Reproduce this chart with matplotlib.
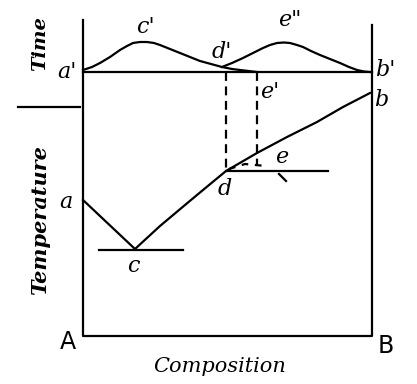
import matplotlib
matplotlib.use("Agg")
from matplotlib import pyplot as plt

# diagram coordinates (x = composition, y = downward, same frame as the picture)
frame_x = [83, 83, 372, 372]
frame_y = [20, 336, 336, 25]

time_base_x = [83, 372]
time_base_y = [72, 72]

# cooling-time humps
hump1_x = [83, 92, 100, 110, 120, 127, 133, 140, 147, 154, 160, 170, 180, 190, 200, 211, 222, 232, 240, 257]
hump1_y = [70, 67, 63, 57, 50, 46, 43, 42, 42, 43, 45, 49, 53, 57, 61, 64, 67, 69, 70, 72]
hump2_x = [222, 232, 243, 253, 263, 270, 277, 284, 290, 297, 303, 311, 320, 330, 340, 349, 357, 364, 370]
hump2_y = [67, 63, 58, 53, 48, 45, 43, 42.5, 43, 45, 47, 51, 55, 59, 63, 67, 70, 71.5, 72]

# liquidus
left_x = [83, 135]
left_y = [200, 249]
right_x = [135, 160, 185, 203, 226, 257, 287, 317, 343, 370]
right_y = [249, 226, 205, 190, 171, 153, 137, 122, 107, 93]

eutectic_x = [99, 183]
eutectic_y = [250, 250]
d_line_x = [226, 328]
d_line_y = [171, 171]

dash1_x = [226, 226]
dash1_y = [72, 171]
dash2_x = [257, 257]
dash2_y = [72, 164]
de_x = [229, 245, 266]
de_y = [169, 164, 166]

labels = [("a'", 67, 72), ("c'", 145, 27), ("d'", 222, 52), ('e"', 290, 20),
          ("b'", 385, 70), ("e'", 270, 92), ("b", 381, 100), ("e", 282, 157),
          ("d", 225, 189), ("a", 66, 202), ("c", 133, 266)]

fig = plt.figure(figsize=(4.17, 3.84), dpi=100)
ax = fig.add_axes([0, 0, 1, 1])
ax.set_xlim(0, 417)
ax.set_ylim(384, 0)
ax.axis('off')

lw = 1.6
ax.plot(frame_x, frame_y, color='black', lw=lw)
ax.plot(time_base_x, time_base_y, color='black', lw=lw)
ax.plot([18, 80], [107, 107], color='black', lw=lw)
ax.plot(hump1_x, hump1_y, color='black', lw=lw)
ax.plot(hump2_x, hump2_y, color='black', lw=lw)
ax.plot(left_x, left_y, color='black', lw=lw)
ax.plot(right_x, right_y, color='black', lw=lw)
ax.plot(eutectic_x, eutectic_y, color='black', lw=lw)
ax.plot(d_line_x, d_line_y, color='black', lw=lw)
ax.plot(dash1_x, dash1_y, color='black', lw=lw, ls=(0, (4, 2.5)))
ax.plot(dash2_x, dash2_y, color='black', lw=lw, ls=(0, (4, 2.5)))
ax.plot(de_x, de_y, color='black', lw=lw, ls=(0, (3, 3)))
ax.plot([279, 286], [174, 181], color='black', lw=lw)

for txt, x, y in labels:
    ax.text(x, y, txt, fontsize=16, family='DejaVu Serif', style='italic',
            ha='center', va='center')

ax.text(40, 44, "Time", fontsize=14, family='DejaVu Serif', style='italic',
        weight='bold', rotation=90, ha='center', va='center')
ax.text(40, 220, "Temperature", fontsize=15, family='DejaVu Serif', style='italic',
        weight='bold', rotation=90, ha='center', va='center')
ax.text(220, 366, "Composition", fontsize=15, family='DejaVu Serif', style='italic',
        ha='center', va='center')
ax.text(68, 342, "A", fontsize=17, family='DejaVu Sans', ha='center', va='center')
ax.text(386, 346, "B", fontsize=17, family='DejaVu Sans', ha='center', va='center')

fig.savefig("out.png", dpi=100)
